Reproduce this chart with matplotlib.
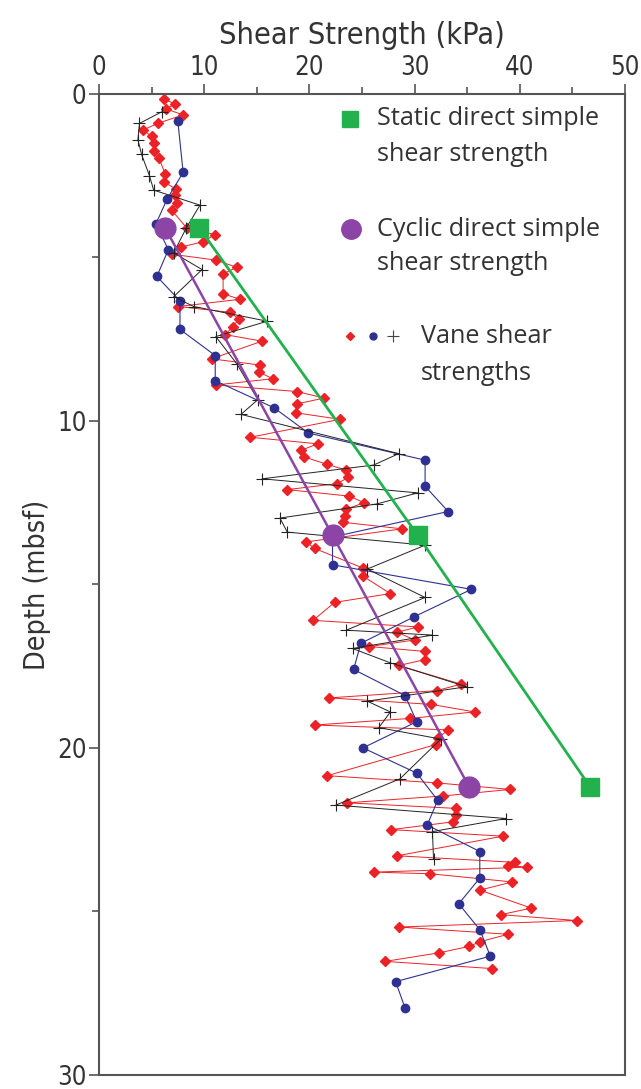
import matplotlib
matplotlib.use("Agg")
import matplotlib.pyplot as plt
from matplotlib.ticker import MultipleLocator

# vane shear, red diamonds (depth m, strength kPa)
red_depth = [0.16, 0.30, 0.46, 0.64, 0.89, 1.10, 1.30, 1.50, 1.75, 1.95,
             2.46, 2.70, 2.90, 3.10, 3.32, 3.55, 4.10, 4.30, 4.52, 4.68,
             4.90, 5.08, 5.30, 5.50, 6.11, 6.28, 6.50, 6.68, 6.89, 7.12,
             7.36, 7.56, 8.10, 8.29, 8.50, 8.71, 8.90, 9.10, 9.30, 9.48,
             9.75, 9.95, 10.50, 10.70, 10.90, 11.10, 11.33, 11.50, 11.73, 11.92,
             12.10, 12.30, 12.50, 12.70, 12.90, 13.10, 13.30, 13.70, 13.90, 14.50,
             14.75, 15.28, 15.55, 16.10, 16.30, 16.46, 16.70, 16.90, 17.05, 17.30,
             17.48, 18.05, 18.25, 18.47, 18.67, 18.90, 19.10, 19.30, 19.45, 19.70,
             19.90, 20.85, 21.07, 21.27, 21.47, 21.68, 21.85, 22.06, 22.26, 22.50,
             22.70, 23.30, 23.50, 23.60, 23.65, 23.80, 23.85, 24.10, 24.35, 24.90,
             25.10, 25.28, 25.48, 25.70, 25.93, 26.07, 26.27, 26.53, 26.75]
red_kpa = [6.2, 7.2, 6.4, 8.0, 5.65, 4.2, 5.0, 5.2, 5.2, 5.7,
           6.3, 6.2, 7.3, 7.2, 7.4, 6.9, 8.35, 11.05, 9.9, 7.8,
           6.9, 11.1, 13.1, 11.8, 11.8, 13.4, 7.55, 12.5, 13.3, 12.7,
           12.0, 15.5, 10.7, 15.3, 15.2, 16.5, 11.1, 18.8, 21.4, 18.8,
           18.7, 22.9, 14.4, 20.8, 19.2, 19.5, 21.7, 23.5, 23.7, 22.6,
           17.9, 23.8, 25.2, 23.5, 23.4, 23.2, 28.8, 19.7, 20.5, 25.1,
           25.1, 27.7, 22.4, 20.35, 30.35, 28.35, 30.0, 25.7, 31.0, 31.0,
           28.5, 34.4, 32.1, 21.9, 31.6, 35.7, 29.55, 20.5, 33.2, 32.2,
           32.0, 21.7, 32.1, 39.1, 32.7, 23.6, 33.9, 33.9, 33.7, 27.8,
           38.4, 28.35, 39.5, 38.9, 40.7, 26.1, 31.5, 39.3, 36.2, 41.1,
           38.2, 45.4, 28.5, 38.9, 36.2, 35.2, 32.3, 27.2, 37.4]

# vane shear, blue circles
blue_depth = [0.84, 2.40, 3.20, 3.98, 4.76, 5.58, 6.33, 7.20, 8.00, 8.77,
              9.60, 10.37, 11.20, 12.00, 12.77, 13.55, 14.40, 15.15, 16.00, 16.80,
              17.60, 18.40, 19.20, 20.00, 20.77, 21.60, 22.36, 23.17, 23.98, 24.77,
              25.56, 26.37, 27.15, 27.96]
blue_kpa = [7.5, 8.0, 6.5, 5.4, 6.6, 5.5, 7.7, 7.7, 11.05, 11.05,
            16.65, 19.9, 31.0, 31.0, 33.2, 22.2, 22.2, 35.4, 29.9, 24.9,
            24.2, 29.1, 30.2, 25.1, 30.2, 32.2, 31.2, 36.2, 36.2, 34.2,
            36.2, 37.2, 28.2, 29.1]

# vane shear, black crosses
black_depth = [0.54, 0.90, 1.40, 1.85, 2.50, 2.94, 3.40, 4.10, 4.86, 5.37,
               6.20, 6.50, 6.95, 7.42, 8.25, 9.35, 9.80, 11.00, 11.35, 11.77,
               12.20, 12.54, 12.97, 13.40, 13.80, 14.53, 15.40, 16.40, 16.55, 16.96,
               17.40, 18.13, 18.57, 18.90, 19.38, 19.73, 20.95, 21.75, 22.16, 22.56,
               23.40]
black_kpa = [6.0, 3.85, 3.7, 4.05, 4.8, 5.2, 9.6, 8.3, 7.1, 9.8,
             7.1, 9.0, 16.0, 11.1, 13.1, 15.1, 13.5, 28.5, 26.1, 15.5,
             30.3, 26.4, 17.2, 17.9, 31.0, 25.5, 31.0, 23.5, 31.7, 24.1,
             27.7, 34.95, 25.5, 27.7, 26.6, 32.5, 28.6, 22.5, 38.7, 31.7,
             31.8]

# direct simple shear tests
dss_depth = [4.1, 13.5, 21.2]
static_kpa = [9.55, 30.3, 46.7]
cyclic_kpa = [6.3, 22.2, 35.2]

RED = "#ec2227"
BLUE = "#2e3192"
GREEN = "#22b14c"
PURPLE = "#8c44a6"
TEXT = "#333333"
AXIS = "#555555"

narrow = dict(family="DejaVu Sans", stretch="condensed")
legend_font = ["Open Sans", "DejaVu Sans"]

fig = plt.figure(figsize=(6.41, 10.89), dpi=100)
ax = fig.add_axes([0.1544, 0.0130, 0.8206, 0.9007])

ax.plot(red_kpa, red_depth, color=RED, lw=0.7, marker="D", ms=4.8,
        mfc=RED, mec=RED, zorder=2)
ax.plot(blue_kpa, blue_depth, color=BLUE, lw=0.8, marker="o", ms=6,
        mfc=BLUE, mec=BLUE, zorder=3)
ax.plot(black_kpa, black_depth, color="#222222", lw=0.7, marker="+", ms=8,
        mew=0.8, zorder=4)
ax.plot(cyclic_kpa, dss_depth, color=PURPLE, lw=1.8, marker="o", ms=15,
        mfc=PURPLE, mec=PURPLE, zorder=5)
ax.plot(static_kpa, dss_depth, color=GREEN, lw=2.0, marker="s", ms=12.5,
        mfc=GREEN, mec=GREEN, zorder=6)

ax.set_xlim(0, 50)
ax.set_ylim(30, 0)
ax.xaxis.tick_top()
ax.xaxis.set_label_position("top")
ax.xaxis.set_major_locator(MultipleLocator(10))
ax.xaxis.set_minor_locator(MultipleLocator(5))
ax.yaxis.set_major_locator(MultipleLocator(10))
ax.yaxis.set_minor_locator(MultipleLocator(5))
ax.tick_params(which="major", length=7, width=1.2, color=AXIS,
               labelsize=18.5, labelcolor=TEXT, pad=2)
ax.tick_params(which="minor", length=5, width=1.2, color=AXIS)
for lab in ax.get_xticklabels() + ax.get_yticklabels():
    lab.set_family(narrow["family"])
    lab.set_stretch(narrow["stretch"])
for sp in ax.spines.values():
    sp.set_color(AXIS)
    sp.set_linewidth(1.5)

ax.set_xlabel("Shear Strength (kPa)", fontsize=22, color=TEXT,
              labelpad=8, **narrow)
ax.set_ylabel("Depth (mbsf)", fontsize=20.5, color=TEXT,
              labelpad=4, **narrow)

# hand-placed legend
tx = dict(fontsize=18.2, color=TEXT, family=legend_font, va="center",
          transform=ax.transAxes)
ax.plot([0.477], [0.9747], "s", ms=11.5, color=GREEN, transform=ax.transAxes,
        clip_on=False)
ax.text(0.5285, 0.9747, "Static direct simple", **tx)
ax.text(0.5285, 0.9382, "shear strength", **tx)
ax.plot([0.479], [0.8622], "o", ms=14, color=PURPLE, transform=ax.transAxes,
        clip_on=False)
ax.text(0.5285, 0.8622, "Cyclic direct simple", **tx)
ax.text(0.5285, 0.8267, "shear strength", **tx)
ax.plot([0.477], [0.7528], "D", ms=4, color=RED, transform=ax.transAxes)
ax.plot([0.521], [0.7528], "o", ms=5, color=BLUE, transform=ax.transAxes)
ax.plot([0.559], [0.7528], "+", ms=8, mew=0.8, color="#444444",
        transform=ax.transAxes)
ax.text(0.612, 0.7528, "Vane shear", **tx)
ax.text(0.612, 0.7153, "strengths", **tx)

fig.savefig("out.png", dpi=100)
